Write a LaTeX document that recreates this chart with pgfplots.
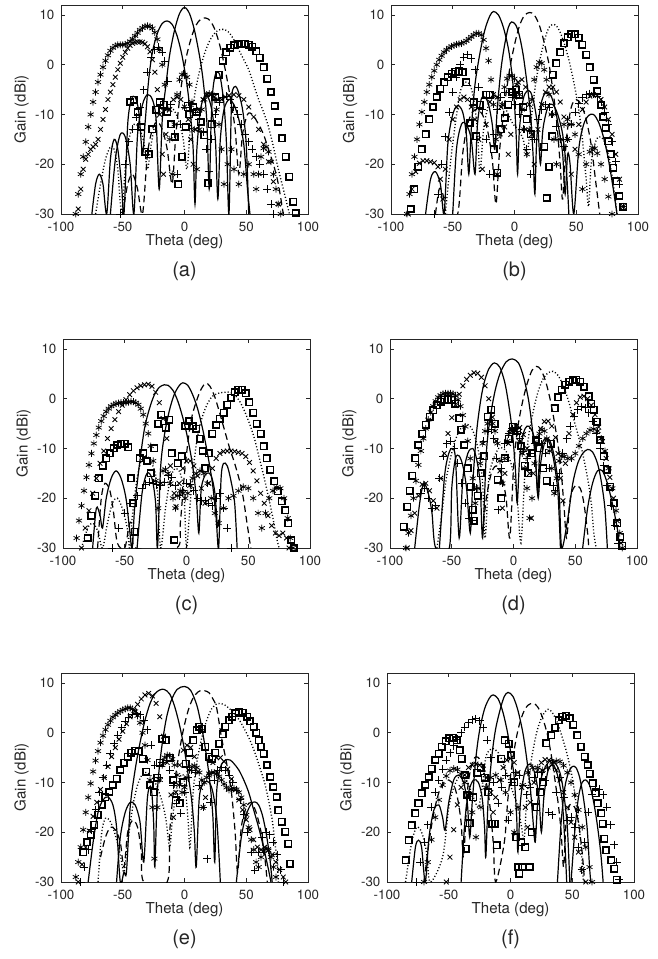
\documentclass[border=0pt]{standalone}
\usepackage{pgfplots}
\pgfplotsset{compat=1.18}
\usepackage{fontspec}
\setmainfont{TeX Gyre Heros}
\definecolor{txtgray}{RGB}{38,38,38}
\pgfplotsset{
 panel/.style={width=185.25pt, height=156.75pt, scale only axis, anchor=south west,
  xmin=-100,xmax=100,ymin=-30,ymax=12,
  xtick={-100,-50,0,50,100}, ytick={-30,-20,-10,0,10},
  tick align=inside, major tick length=3pt,
  axis line style={line width=0.5pt, color=txtgray}, tick style={txtgray, line width=0.5pt},
  tick label style={font=\fontsize{10}{12}\selectfont, text=txtgray, inner sep=1pt},
  xticklabel style={yshift=-4.6pt}, yticklabel style={xshift=-3.8pt},
  /pgf/number format/assume math mode=true},
 sol/.style={black, line width=0.9pt, smooth, tension=0.5, mark=none},
 dsh/.style={black, line width=0.9pt, smooth, tension=0.5, dash pattern=on 5pt off 3pt, mark=none},
 dot/.style={black, line width=1pt, smooth, tension=0.5, dash pattern=on 0.8pt off 1.6pt, mark=none},
 sqm/.style={black, only marks, mark=square, mark size=2.4pt, line width=1.2pt},
 stm/.style={black, only marks, mark=asterisk, mark size=2.6pt, line width=0.55pt},
 xm/.style={black, only marks, mark=x, mark size=2.5pt, line width=0.65pt},
 pm/.style={black, only marks, mark=+, mark size=3pt, line width=0.65pt},
}
\tikzset{lab/.style={font=\fontsize{11.3}{13}\selectfont, text=txtgray, inner sep=0pt},
 plabel/.style={font=\fontsize{15}{17}\selectfont, text=txtgray, inner sep=0pt}}
\begin{document}
\begin{tikzpicture}
\path[use as bounding box] (0pt,0pt) rectangle (492.75pt,-719.25pt);
% ---------------- (a)
\begin{axis}[panel, at={(45.75pt,-160.5pt)}]
\addplot[sol] coordinates {(-75,-30)(-72,-24)(-69,-22)(-66,-24)(-63,-30)(-60,-19)(-57,-15)(-54,-17)(-51,-24)(-49,-30)(-46,-12)(-43,-7)(-40,-6.5)(-37,-9.5)(-34,-18)(-32,-12)(-29,-3)(-26,2.5)(-22,6.3)(-18,8.3)(-14,8.8)(-10,8.1)(-6,5.8)(-2,1.8)(2,-4)(5,-10.5)(7,-17)(8.5,-28)(10,-17)(13,-9)(16,-6.5)(19,-6.5)(22,-9)(25,-15)(27,-27)(29,-15)(32,-9)(36,-7)(40,-8)(44,-11)(48,-16)(51,-25)(53,-30)};
\addplot[sol] coordinates {(-60,-30)(-56,-19)(-52,-14)(-48,-14.5)(-44,-20)(-41,-30)(-38,-14)(-34,-8)(-30,-6)(-26,-7)(-23,-11)(-20.5,-25)(-18,-11)(-15,-4)(-12,2)(-8,7)(-4,10.3)(0,11.5)(4,10.3)(8,7)(12,2)(15,-3)(18,-11)(20,-25)(21.5,-12)(23,-5)(25,-2)(27,-1.5)(29,-2.5)(32,-8)(34,-16)(36,-30)(38,-8)(40,-4.5)(43,-5)(47,-9)(50,-16)(52,-30)};
\addplot[dsh] coordinates {(-50,-30)(-46,-24)(-42,-22)(-38,-25)(-34,-30)(-30,-18)(-26,-13)(-22,-11.5)(-18,-13)(-14,-17)(-10,-24)(-7,-14)(-3,-5)(1,1)(5,5)(9,7.8)(13,9.1)(17,9.4)(21,8.8)(25,6.8)(29,3.5)(33,-1)(37,-6.5)(41,-13)(44,-22)(47,-14)(51,-10)(55,-10)(60,-12)(64,-14)(68,-17)(72,-20)(76,-24)(80,-30)};
\addplot[dot] coordinates {(-72,-30)(-68,-24)(-64,-19)(-60,-16.5)(-57,-17)(-54,-21)(-51,-30)(-48,-21)(-45,-15)(-41,-12)(-37,-12.5)(-33,-15.5)(-30,-21)(-27,-16)(-23,-11)(-19,-9)(-14,-8.5)(-9,-9)(-5,-11)(-1,-15)(2,-21)(5,-12)(9,-5)(13,-0.5)(17,2.8)(21,5.1)(25,6.5)(29,7.1)(32,7.1)(36,6.5)(40,5)(44,3)(48,1)(52,-1)(56,-4)(60,-7)(64,-9.5)(68,-12.5)(72,-16.5)(76,-21)(80,-25)(84,-29)(86,-31)};
\addplot[sqm] coordinates {(-44,-7.5)(-41,-7)(-38,-9.5)(-35,-12.5)(-32,-17.5)(-29,-18)(-26,-13)(-23,-9)(-20,-7.5)(-17,-8)(-14,-9.5)(-11,-12)(-8,-14.5)(-5,-24)(-2,-18.5)(1,-12.5)(4,-10)(7,-8.5)(10,-9.5)(13,-11.5)(16,-14.2)(19,-23.8)(22,-12)(25,-6.5)(28,-2)(31,0.8)(34,2.5)(37,3.4)(40,3.9)(43,4.1)(46,4.2)(49,4.2)(52,4)(55,3.6)(58,2.7)(61,1.4)(64,-0.5)(67,-2.8)(70,-5.5)(73,-8.3)(76,-11.5)(79,-14.8)(82,-18.5)(85,-22.5)(88,-27.5)(90,-29.8)};
\addplot[stm] coordinates {(-88,-30)(-86,-26)(-84,-22)(-82,-18.5)(-80,-15.5)(-78,-12.5)(-76,-10)(-74,-7.5)(-72,-5.5)(-70,-3.5)(-68,-2)(-66,-0.5)(-64,0.8)(-62,1.9)(-60,2.8)(-58,3.4)(-56,3.8)(-54,4)(-52,4)(-50,4)(-48,4.1)(-46,4.3)(-44,4.7)(-42,5.2)(-40,5.8)(-38,6.4)(-36,7)(-34,7.4)(-32,7.7)(-30,7.8)(-28,7.7)(-26,7.3)(-24,6.5)(-22,5.1)(-20,3)(-18,0)(-16,-4)(-14,-9)(-12,-15)(-10,-22)(-8,-12)(-6,-6)(-4,-3)(-2,-2)(0,-2)(2,-2.5)(4,-4)(6,-7.5)(8,-13)(10,-21)(12,-13)(14,-9)(16,-7)(18,-6)(20,-5.8)(22,-6)(24,-7)(26,-9)(28,-12)(30,-17)(32,-24)(35,-20)(38,-17)(40,-21)(44,-24)(48,-22)(52,-20)(56,-22)(58,-25)(60,-22)(62,-18.5)(64,-16.8)(66,-16.5)(68,-17.5)(70,-19.5)(72,-22)(74,-25)(76,-28)(78,-30)};
\addplot[xm] coordinates {(-86,-29)(-84,-25)(-82,-21)(-80,-19)(-78,-18)(-76,-17)(-74,-16.5)(-72,-16)(-70,-15)(-68,-13)(-66,-11)(-64,-9)(-62,-7)(-60,-5.5)(-58,-4)(-56,-2.5)(-54,-1)(-52,0.3)(-50,1.5)(-48,2.5)(-46,3.3)(-44,3.9)(-42,4.3)(-40,4.5)(-38,4.6)(-36,4.6)(-34,4.5)(-32,4.2)(-30,3.6)(-28,2.6)(-26,1)(-24,-1.5)(-22,-5)(-20,-10)(-18,-18)(-17,-22)(-15,-14)(-12,-9)(-9,-7)(-6,-6.5)(-3,-7)(0,-8.5)(3,-11)(5,-15)(7,-20)(9,-13)(12,-9)(15,-7)(18,-6)(21,-6)(24,-6.5)(27,-7)(30,-7)(33,-6.5)(36,-6.2)(40,-6)(44,-6.2)(48,-7)(52,-8.5)(56,-10.5)(60,-13)(64,-16)(68,-19.5)(72,-23.5)(76,-28)};
\addplot[pm] coordinates {(-52,-30)(-48,-20)(-45,-15.5)(-42,-13)(-39,-10.5)(-36,-8.5)(-33,-5)(-30,-1.5)(-27,1.5)(-24,3)(-21,3.5)(-18,2.5)(-16,0.7)(-13.5,-3.3)(-11,-8)(-8,-14)(-6,-22)(-3,-12)(0,-8.5)(3,-7.5)(6,-8)(9,-9.5)(12,-11)(15,-13.5)(17.5,-17)(19.5,-21.4)(22,-15)(25,-10)(28,-7.5)(31,-6.5)(34,-6.3)(37,-7)(40,-8.5)(43,-10)(46,-12)(49,-14)(52,-15.5)(55,-17)(58,-18.5)(61,-20)(64,-22)(67,-25)(70,-28)(72,-30)};
\end{axis}
% ---------------- (b)
\begin{axis}[panel, at={(293.25pt,-160.5pt)}]
\addplot[sol] coordinates {(-72,-30)(-68,-23)(-64,-21.5)(-60,-24)(-57,-30)(-54,-16)(-50,-10)(-46,-8.2)(-42,-9.5)(-39,-14)(-37,-22)(-35,-13)(-32,-4)(-28,2.3)(-24,7)(-20,9.8)(-17,10.7)(-13,10)(-9,7.5)(-5,3.3)(-2,-2)(0,-8)(1.5,-15)(2.5,-22)(4,-13)(7,-7)(10,-5.3)(13,-5.5)(16,-8)(19,-13)(21,-20)(23,-13)(27,-8.5)(31,-8)(35,-10)(39,-14)(42,-21)(44,-30)};
\addplot[sol] coordinates {(-50,-30)(-47,-17)(-43,-12)(-39,-12)(-35,-15)(-32,-22)(-30,-12)(-27,-7)(-24,-6.5)(-21,-8)(-18,-12)(-16,-17)(-14,-9)(-11,-1)(-8,4)(-5,7.5)(-2.4,8.6)(1,8)(4,5.8)(7,2)(10,-3.5)(13,-10)(15,-18)(16.5,-26)(18,-15)(21,-8.5)(24,-6)(27,-5.5)(30,-6.5)(33,-9)(36,-13)(39,-18)(41,-26)(43,-18)(45,-20)(48,-30)(52,-17)(56,-12)(60,-10.2)(64,-10)(68,-11.5)(72,-14.5)(76,-19)(80,-25)(83,-30)};
\addplot[dsh] coordinates {(-64,-30)(-61,-25)(-58,-26)(-55,-30)(-46,-30)(-42,-18)(-38,-12)(-34,-9.5)(-30,-9)(-26,-10)(-22,-13)(-18,-19)(-15,-28)(-12,-17)(-8,-8)(-4,-1)(0,4)(4,7.8)(8,9.9)(12.4,10.5)(16,10)(20,8)(24,4.5)(28,0)(31,-5)(34,-11)(37,-20)(39,-27)(42,-15)(46,-8.5)(50,-7)(54,-8)(58,-11)(62,-16)(66,-24)(69,-30)};
\addplot[dot] coordinates {(-56,-30)(-52,-20)(-48,-12)(-44,-5.5)(-40,-3.5)(-36,-4)(-33,-7)(-30,-13)(-28,-21.7)(-25,-13)(-21,-8)(-17,-6.5)(-13,-7)(-9,-8)(-5,-10)(-1,-12)(3,-13)(7,-15)(10,-18.4)(13,-12)(17,-4)(21,1.5)(25,5.5)(28,7.5)(31,8.1)(34,7.8)(37,6.5)(40,4.5)(44,1)(48,-3.5)(52,-9)(55,-15)(58,-23)(60,-28.5)(62,-20)(65,-16)(68,-14.5)(72,-15)(76,-18)(80,-24)(83,-30)};
\addplot[sqm] coordinates {(-84,-29)(-81,-25)(-78,-20.5)(-75,-17)(-72,-14)(-69,-11)(-66,-8.5)(-63,-6.5)(-60,-4.8)(-57,-3.5)(-54,-2.5)(-51,-1.8)(-48,-1.4)(-45,-1.3)(-42,-1.5)(-39,-3.5)(-36,-11.7)(-33,-7.5)(-31,-14.4)(-28,-8)(-23,-6)(-20,-6)(-17,-17)(-14,-21.7)(-11,-13)(-8,-10.7)(-5,-8)(-2,-5.5)(1,-5)(4,-6)(7,-8.5)(10,-11)(13,-14)(24,-16.5)(26,-26.8)(28,-20.5)(30.5,-14.4)(31,-2)(34,0.3)(37,2.5)(40,4.3)(43,5.5)(46,6.1)(49,6.1)(52,5.4)(55,4)(58,2)(61,-0.5)(64,-3)(67,-5.3)(70,-8)(72,-10.5)(74,-12.7)(76,-15.4)(78,-18)(80,-20.7)(82.5,-23.4)(85,-26.4)(88,-28.5)};
\addplot[stm] coordinates {(-87,-30)(-85,-26)(-83,-22)(-81,-18.5)(-79,-15)(-77,-12)(-75,-9.5)(-73,-7.5)(-71,-5.5)(-69,-4)(-67,-2.5)(-65,-1.2)(-63,0)(-61,1)(-59,1.8)(-57,2.5)(-55,3)(-53,3.4)(-51,3.7)(-49,3.9)(-47,4.1)(-45,4.2)(-43,4.3)(-41,4.5)(-39,4.8)(-37,5.2)(-35,5.6)(-33,6)(-31,6.3)(-29,6.3)(-27,6)(-25,5)(-23,3.3)(-21,0.8)(-19,-3)(-17,-8)(-15,-15)(-14,-22)(-12,-14)(-10,-8)(-8,-4.5)(-6,-2.8)(-4,-2.2)(-2,-2.2)(0,-2.8)(2,-4)(4,-6)(6,-9)(8,-13)(10,-18)(12,-13)(14,-7)(16,-3)(18,-0.5)(20,0.5)(22,0.3)(24,-1)(26,-3)(28,-6)(30,-10)(32,-15)(34,-20)(37,-15)(40,-12)(43,-11)(46,-12)(49,-14)(52,-18)(55,-25)(58,-20)(61,-17.5)(63,-16.7)(65,-16.8)(67,-17.8)(70,-20)(73,-23)(76,-26.5)(79,-30)};
\addplot[xm] coordinates {(-86,-30)(-83,-25)(-80,-21.5)(-77,-19.8)(-74,-19.3)(-71,-19.3)(-68,-19.5)(-65,-19.7)(-62,-20.5)(-60,-23)(-58,-27)(-56,-21)(-53,-15)(-50,-11)(-47,-8.5)(-44,-7)(-41,-6.5)(-38,-7)(-35,-8.5)(-32,-11)(-29,-15)(-26,-21)(-23,-12)(-20,-7.5)(-17,-6)(-14,-6.5)(-11,-8.5)(-8,-12.5)(-5,-18)(-3,-14)(0,-6.5)(3,-3.5)(6,-3)(9,-4.5)(12,-8)(14,-14)(16,-20)(19,-13)(22,-8)(25,-5.5)(28,-4.5)(31,-4.5)(34,-5.5)(37,-7.5)(40,-10.5)(43,-15)(46,-22)(49,-17)(52,-12)(55,-9)(58,-7.5)(61,-6.3)(64,-6)(67,-6.2)(70,-7)(73,-8.5)(76,-11)(79,-14)(82,-18)(85,-23)(88,-28.5)};
\addplot[pm] coordinates {(-65,-30)(-62,-26)(-59,-20)(-56,-14.5)(-53,-9.5)(-50,-5.5)(-47,-2.5)(-44,0)(-41,1.5)(-38,2)(-35,1.2)(-32,-1)(-29,-4.5)(-26,-9)(-23,-15)(-20,-22)(-17,-14)(-14,-9)(-11,-6.5)(-8,-5.5)(-5,-5.5)(-2,-6.5)(1,-8)(4,-10)(7,-13)(10,-17)(13,-22)(16,-15)(19,-11)(22,-9)(25,-8)(28,-8.5)(31,-10)(34,-12.5)(37,-15)(40,-16.5)(43,-15)(46,-12)(49,-9.5)(52,-7.8)(55,-6.6)(58,-6)(61,-5.8)(64,-5.9)(67,-6.4)(70,-7.5)(73,-9.5)(76,-12)(79,-15.5)(82,-19.5)(85,-24)(88,-28.5)};
\end{axis}
% ---------------- (c)
\begin{axis}[panel, at={(47.25pt,-411pt)}]
\addplot[sol] coordinates {(-76,-30)(-73,-22)(-70,-23.5)(-68,-26)(-65,-20)(-61,-16)(-57,-14.5)(-53,-16)(-49,-20)(-46,-26.5)(-44,-30)(-42,-22)(-38,-13)(-34,-6)(-30,-2)(-26,0.8)(-22,2.3)(-18,2.8)(-15,2.7)(-11,1.7)(-7,-0.5)(-3,-3.8)(1,-8)(5,-13.5)(8,-20)(10,-27)(12,-18)(16,-15)(20,-15.5)(23,-19)(25,-26)};
\addplot[sol] coordinates {(-40,-30)(-36,-19)(-32,-15)(-28,-16)(-25,-21)(-23.5,-30)(-21,-14)(-18,-7.5)(-14,-2.5)(-10,0.8)(-6,2.6)(-3,3.2)(1,2.7)(5,0.8)(9,-2)(13,-6)(17,-11)(21,-17)(24,-24)(26,-30)(28,-16)(30,-13)(33,-13.5)(36,-16.5)(39,-21)(41,-30)};
\addplot[dsh] coordinates {(-72,-30)(-69,-20)(-66,-17)(-62,-18.5)(-59,-23)(-56,-29)(-50,-30)(-46,-25)(-43,-26)(-41,-30)(-8,-30)(-5,-25)(-2,-16)(1,-9)(4,-4)(8,-0.5)(12,2)(15.6,3.1)(19,2.5)(23,0.3)(27,-3)(31,-6.5)(35,-10)(39,-13)(43,-16.5)(46,-20)(49,-25)(52,-30)};
\addplot[dot] coordinates {(-85,-30)(-80,-26)(-76,-25)(-72,-26.5)(-68,-30)(-64,-25)(-60,-21)(-56,-20)(-52,-22)(-48,-26)(-46,-30)(-44,-24)(-40,-16)(-36,-12)(-32,-11.5)(-28,-13)(-24,-17)(-21,-30)(-17,-22)(-13,-16)(-9,-14)(-5,-15)(-2,-19)(0,-30)(3,-21)(6,-13)(9,-7.5)(13,-3.5)(17,-1)(21,0.5)(26,1.1)(31,1.3)(35,1.3)(39,0.8)(43,-0.5)(47,-2.5)(51,-5)(55,-8)(59,-12)(63,-16)(67,-20.5)(70,-24)(73,-28)(75,-30)};
\addplot[sqm] coordinates {(-80,-28)(-77,-23.5)(-74,-19.5)(-71,-16)(-68,-13.5)(-65,-12)(-62,-11)(-59,-10)(-56,-9.3)(-53,-9)(-50,-9)(-47,-9.8)(-45,-16)(-43.5,-21)(-42,-26.7)(-38,-12)(-35,-11)(-32,-12.5)(-29,-15)(-26,-10)(-23,-5)(-20.5,-3.2)(-17,-5.8)(-14,-4.2)(-12,-11)(-10,-28.4)(-7,-13)(-4,-11.6)(-1,-5.5)(2,-4.5)(5,-5.5)(8,-6)(11,-8)(13,-10.5)(15,-14)(18,-11)(21,-7)(24,-5.3)(27,-4)(30,-2.8)(33,-1.2)(36,0.2)(39,1.3)(42,1.8)(45,1.8)(48,1.1)(51,-0.7)(54,-2.8)(57,-5)(60,-7)(62.5,-9.6)(65,-12)(68,-14.3)(71,-16.6)(74,-18.6)(77,-20.6)(80,-22.4)(82.5,-25)(85,-28.4)(87,-30)};
\addplot[stm] coordinates {(-89,-28)(-87,-24.5)(-85,-21.5)(-83,-18.5)(-81,-15.8)(-79,-13.3)(-77,-11)(-75,-9)(-73,-7.3)(-71,-5.8)(-69,-4.5)(-67,-3.5)(-65,-2.6)(-63,-2)(-61,-1.5)(-59,-1.2)(-57,-1)(-55,-0.9)(-53,-0.8)(-51,-0.8)(-49,-0.8)(-47,-0.7)(-45,-0.6)(-43,-0.6)(-41,-0.8)(-39,-1.2)(-37,-2)(-35,-3.2)(-33,-5)(-31,-7)(-29,-9.5)(-27,-12.5)(-25,-16.5)(-23,-22)(-21,-17)(-19,-14.5)(-17,-14.2)(-15,-15)(-13,-17)(-11,-20)(-9,-22)(-7,-19.5)(-5,-18.5)(-3,-19)(-1,-20)(1,-19)(3,-17.5)(5,-16)(8,-15)(11,-14.5)(14,-15)(17,-17)(20,-20)(23,-23)(26,-25)(30,-22)(34,-20)(38,-19.5)(42,-18.5)(46,-17.7)(50,-18)(54,-20)(58,-23)(61,-26)(64,-23)(67,-20)(70,-18.5)(73,-17.8)(76,-18)(79,-20)(82,-24)(84,-28)(86,-30)};
\addplot[xm] coordinates {(-85,-30)(-82,-26)(-79,-22.5)(-76,-19)(-73,-16)(-70,-13)(-67,-10.5)(-64,-8)(-61,-6)(-58,-4.2)(-55,-2.6)(-52,-1.3)(-49,-0.2)(-46,0.8)(-43,1.6)(-40,2.2)(-37,2.6)(-34,2.8)(-31,2.9)(-28,2.5)(-25,1.3)(-22,-0.8)(-19,-4)(-16,-8)(-13,-13.5)(-10,-19)(-8.5,-21.7)(-6,-17)(-3,-14)(0,-12.5)(3,-12.5)(6,-13.5)(9,-15.5)(12,-18)(15,-21)(18,-17)(21,-14)(24,-12)(27,-11)(30,-10.6)(33,-10.5)(36,-10.5)(39,-10.6)(42,-10.8)(45,-11)(48,-11.6)(51,-12.8)(54,-14.5)(57,-16.5)(60,-19)(63,-21)(66,-23.5)(69,-25.5)(72,-27)(75,-27.5)(78,-27)(81,-28)(83,-30)};
\addplot[pm] coordinates {(-60,-30)(-55,-26)(-50,-23)(-45,-21)(-40,-19.5)(-36,-18)(-33,-17.2)(-30,-16.8)(-27,-17)(-24,-17.3)(-21,-17.5)(-18,-16.8)(-15,-15.5)(-12,-15.8)(-9,-17.5)(-6,-19.5)(-3,-18.5)(0,-17)(3,-17.2)(6,-18.5)(9,-20)(12,-20.5)(15,-20.5)(18,-21)(21,-21.5)(24,-20)(27,-19)(30,-22)(33,-26)(36,-30)};
\end{axis}
% ---------------- (d)
\begin{axis}[panel, at={(292.5pt,-411pt)}]
\addplot[sol] coordinates {(-80,-30)(-76,-21)(-72.7,-17)(-69,-19)(-66,-23)(-63,-30)(-52,-30)(-50,-18)(-47,-12)(-44,-11.5)(-41,-13.5)(-38,-18)(-35,-27)(-33,-17)(-30,-7)(-27,-1)(-24,3)(-20,6)(-15.5,7.2)(-11,6.3)(-7,3.2)(-4,-1)(-1,-6.5)(1.5,-14)(3,-21)(5,-12)(8,-7)(11,-5.5)(14,-6)(17,-8.5)(19.5,-19)(21,-12)(24,-8.5)(27,-8)(30,-9.5)(33,-13)(36,-19)(38,-30)};
\addplot[sol] coordinates {(-60,-30)(-56,-16)(-53,-11.5)(-50,-10)(-47,-12)(-44,-28)(-41,-16)(-37,-11)(-33,-10)(-30,-12)(-27,-17)(-25,-28)(-22,-11)(-19,-4)(-15,1.5)(-11,5)(-6,7.4)(-1,8)(4,7.2)(8,4.5)(12,0)(15,-5.5)(18,-13)(20,-20)(22,-13)(25,-9)(28,-8)(31,-9.5)(34,-13)(37,-19)(39,-30)(44,-24)(48,-17)(52,-13)(56,-11)(60,-10.2)(64,-10.7)(68,-13)(71,-16.5)(74,-22)(76,-30)};
\addplot[sol] coordinates {(56,-30)(60,-22)(64,-17)(68,-14.5)(72,-14.5)(76,-17)(80,-21)(84,-26)(86,-30)};
\addplot[dsh] coordinates {(-25,-27)(-22,-20)(-18,-15)(-14,-13.5)(-10,-15)(-6,-20)(-3,-28)(0,-14)(3,-6.5)(7,-1)(11,3)(15,5.7)(18.5,6.5)(22,5.9)(26,3.5)(30,-0.5)(34,-6)(38,-13)(41,-22)(43,-28)(46,-20)(50,-17.5)(54,-18)(57,-21)(60,-27)(61,-30)};
\addplot[dot] coordinates {(-62,-30)(-58,-23)(-55,-17)(-52,-13)(-48,-9)(-44,-6.5)(-40,-5.2)(-36,-5.3)(-32,-7)(-28,-11)(-25,-17)(-23,-28)(-20,-16)(-16,-12)(-12,-10)(-8,-10)(-4,-11.5)(0,-15)(3,-20)(6,-29)(9,-16)(12,-8)(16,-2.5)(20,1.5)(24,4)(28,5.2)(32,5.5)(36,4.7)(40,2.8)(44,0)(48,-3.5)(52,-7)(56,-11)(60,-16)(63,-21)(65,-27)(67,-30)};
\addplot[sqm] coordinates {(-89,-25.7)(-86,-21.7)(-84,-18.5)(-82,-15.5)(-79.5,-12)(-77,-9.3)(-74,-7)(-71,-5.2)(-68,-3.6)(-65,-2.3)(-62,-1.3)(-59,-0.6)(-56,-0.2)(-53,-0.1)(-50,-0.2)(-47,-1)(-44,-3.9)(-42.5,-6.2)(-40,-9.3)(-37,-14)(-34.6,-17.7)(-33,-22.3)(-32,-24.5)(-29,-19.5)(-26.5,-15)(-23.7,-11.6)(-21,-3.6)(-18,-2.2)(-15,-5)(-12.8,-16.3)(-10,-20)(-7,-12)(-4,-8)(-0.5,-5.6)(3,-6.5)(6,-9.5)(9,-13.5)(12,-15)(15,-11)(18,-8.3)(21,-10)(24,-14)(27,-16.5)(30,-9)(33.5,-1.9)(36,0.3)(39,1.8)(42,2.8)(45,3.4)(48,3.7)(51,3.8)(54,3.4)(57,2.4)(60.8,0.5)(63,-1)(64.9,-2.2)(67.6,-4.6)(70,-8.3)(73,-11.6)(75.7,-14.3)(78.5,-17.7)(81,-21)(84,-25)(86.6,-27.7)(88,-29.5)};
\addplot[stm] coordinates {(-87,-30)(-85,-27)(-83,-23.5)(-81,-20)(-79,-16.5)(-77,-13.3)(-75,-10.5)(-73,-8)(-71,-6)(-69,-4.2)(-67,-2.7)(-65,-1.5)(-63,-0.5)(-61,0.3)(-59,0.7)(-57,1)(-55,1.1)(-53,1.1)(-51,1.1)(-49,1)(-47,0.6)(-45,-0.2)(-43,-1.5)(-41,-3.3)(-39,-5.6)(-37,-8.5)(-35,-12)(-33,-16)(-31,-21)(-29,-18)(-27,-13)(-25,-9)(-23,-6.5)(-21,-5)(-19,-4.5)(-17,-5)(-15,-6.5)(-13,-9)(-11,-12.5)(-9,-17)(-7,-12)(-5,-8.5)(-3,-6.8)(-1,-6)(1,-6)(3,-6.8)(5,-8.5)(7,-11)(9,-14)(11,-18)(13,-24)(15,-20)(17,-13)(19,-9)(21,-7)(23,-6.2)(25,-6.5)(27,-8)(29,-10.5)(31,-14)(33,-19)(35,-16)(37,-12.5)(39,-11.5)(41,-11.6)(44,-12)(47,-12)(50,-11)(53,-9.5)(56,-8)(59,-7)(62,-6.3)(65,-6.1)(68,-6.5)(71,-8)(74,-10.5)(77,-14)(80,-18)(83,-22.5)(86,-27)(88,-30)};
\addplot[xm] coordinates {(-86,-30)(-83,-26.5)(-80,-23)(-77,-19.5)(-74,-17.2)(-71,-17)(-68,-18.5)(-65,-20.5)(-62,-22)(-59,-16)(-56,-11)(-53,-7)(-50,-3.8)(-47,-1.2)(-44,0.9)(-41,2.6)(-38,3.9)(-35,4.7)(-32,5.2)(-29,5.1)(-26,4.3)(-23,2.6)(-20,0)(-17,-3.7)(-14,-8.5)(-11,-14.5)(-9,-22)(-7,-15)(-4,-9)(-1,-6.5)(2,-5.5)(5,-5.8)(8,-7.2)(11,-10)(13,-15)(14.5,-24)(16,-15)(19,-9)(22,-6)(25,-4.6)(28,-4.5)(31,-5.5)(34,-7.8)(36,-11)(38,-16)(40,-20.5)(42,-13)(45,-7)(48,-3.2)(51,-0.8)(54,0.3)(57,0.5)(60,0)(63,-1.3)(66,-3.2)(69,-5.7)(72,-8.6)(75,-12)(78,-15.8)(81,-20)(84,-24.5)(87,-29)};
\addplot[pm] coordinates {(-75,-19)(-72,-18)(-69,-20)(-66,-22)(-63,-21.5)(-60,-16)(-57,-11.5)(-54,-9)(-51,-8.5)(-48,-10)(-45,-13)(-42,-17)(-39,-21)(-36,-24)(-33,-24.5)(-30,-18)(-27,-12)(-24,-8.5)(-21,-6.5)(-18,-6.2)(-16,-8)(-14,-12)(-12.5,-22.3)(-10,-14)(-7,-9)(-4,-7)(-1,-6)(2,-6.5)(5,-8)(8,-10.5)(11,-12)(14,-11)(17,-9)(20,-8)(23,-9)(26,-11)(29,-14)(32,-17.5)(34,-18.5)(37,-15)(40,-11)(43,-8)(46,-5.5)(49,-3.5)(52,-2.2)(55,-1.6)(58,-1.8)(61,-2.8)(64,-4.5)(67,-7)(70,-10)(73,-13.5)(76,-17.5)(79,-21.5)(82,-25.5)(85,-29)};
\end{axis}
% ---------------- (e)
\begin{axis}[panel, at={(45.75pt,-661.5pt)}]
\addplot[sol] coordinates {(-78,-30)(-74,-22)(-70,-16)(-66,-13.5)(-62,-12.9)(-58,-14.5)(-55,-19)(-52,-30)(-49,-28)(-47,-28)(-44,-15)(-40,-7.5)(-36,-2)(-32,2.5)(-28,5.8)(-24,7.8)(-20,8.6)(-16.4,8.7)(-12,7.8)(-8,5.3)(-4,1.5)(0,-3.5)(3,-8.5)(6,-14)(8,-20)(9.5,-27)(12,-13)(16,-10)(20,-10)(23,-12)(26,-17)(28,-25)(29,-30)};
\addplot[sol] coordinates {(-55,-30)(-52,-21)(-48,-16)(-44,-14)(-40,-14.5)(-36,-18)(-33,-26)(-30,-13)(-27,-11)(-25,-18)(-24,-27)(-22,-12)(-19,-4)(-15,2.5)(-11,6.3)(-6,8.7)(0,9.3)(5,8.5)(10,5.5)(14,1)(18,-5)(21,-11)(23,-17)(24.5,-26)(26,-12)(29,-7)(33,-5.5)(37,-5.5)(40,-6.2)(44,-7.5)(48,-9.5)(52,-12)(56,-15.5)(60,-19)(64,-23)(68,-27.5)(70,-30)};
\addplot[sol] coordinates {(42,-30)(46,-21)(50,-16.5)(54,-14.3)(57,-13.9)(60,-14.5)(63,-16.5)(66,-20)(69,-25)(71,-30)};
\addplot[dsh] coordinates {(-68,-25)(-64,-21)(-60,-19)(-56,-19.5)(-52,-22)(-49,-27)(-46,-20)(-42,-17.6)(-38,-19)(-35,-24)(-33,-30)(-14,-30)(-12,-20)(-9,-12)(-5,-5)(-1,0.5)(3,4.5)(7,7)(11,8.2)(14,8.5)(17,8.4)(20,8)(23,6.8)(26,5)(30,-1)(34,-6)(38,-12)(41,-20)(43,-28)(46,-19)(50,-15)(54,-14)(58,-16)(62,-20)(65,-25)(67,-30)};
\addplot[dot] coordinates {(-70,-30)(-67,-20)(-64,-17.2)(-61,-17.5)(-58,-19)(-55,-21.5)(-52,-24.5)(-49,-28)(-46,-22)(-42,-15)(-38,-10.5)(-34,-8.3)(-30,-8)(-26,-9)(-22,-11)(-18,-14)(-15,-17.5)(-12,-23)(-10,-18)(-7,-12)(-4,-9)(-1,-8.5)(1,-12)(3,-18)(4.5,-23)(7,-12)(10,-6)(14,-1)(18,2.5)(22,4.8)(26,5.8)(29,5.9)(33,5.5)(37,4.7)(41,3.7)(45,2.3)(49,0.5)(53,-1.5)(57,-4)(61,-7)(65,-10.2)(68,-13.5)(71,-17.5)(73,-21.6)(75,-26)(76,-30)};
\addplot[sqm] coordinates {(-82,-24)(-79,-22)(-76,-20.5)(-73,-18.5)(-70,-16.5)(-67,-14.5)(-64,-13)(-61,-11.9)(-58,-10.5)(-55,-9.2)(-52,-7.5)(-49,-6)(-46,-4.8)(-43,-4)(-40,-3.6)(-37,-3.7)(-34,-5.2)(-31,-7.8)(-28,-10.5)(-25,-12)(-22,-9)(-20,-6)(-18,-1.2)(-15,-1.5)(-12,-5)(-9,-9.5)(-7,-13.6)(-4,-14.2)(-1,-10)(1,-6.2)(4,-4)(7,-1.5)(10,0.5)(12,1.2)(14,0.8)(17,-2.8)(20,-4.8)(22.5,-5.2)(25,-4)(28,-2.2)(31,-0.3)(33,1.2)(36,2.5)(38.6,3.2)(41,3.9)(44,4.2)(47,4)(50.7,3.2)(53,2.3)(56,1.2)(58,0)(60,-1.5)(62,-2.8)(64,-4.2)(66.8,-6.5)(69.4,-8.9)(72,-10.9)(74.8,-12.9)(76,-15.6)(78.8,-17.9)(81.5,-19.9)(84,-22.3)(85.5,-26.3)};
\addplot[stm] coordinates {(-88,-29)(-86,-26)(-84,-23)(-82,-19.5)(-80,-16)(-78,-13)(-76,-10.2)(-74,-7.8)(-72,-5.6)(-70,-3.7)(-68,-2)(-66,-0.6)(-64,0.6)(-62,1.6)(-60,2.4)(-58,3.1)(-56,3.6)(-54,4)(-52,4.3)(-50,4.6)(-48,4.8)(-46,5)(-44,5)(-42,4.8)(-40,4.3)(-38,3.4)(-36,2)(-34,0)(-32,-2.5)(-30,-5.5)(-28,-9.5)(-26,-15)(-24.4,-25.3)(-22,-15)(-20,-9.5)(-18,-6.5)(-16,-5)(-14,-4.5)(-12,-4.6)(-10,-5.3)(-8,-6.5)(-6,-8.5)(-4,-10.5)(-2,-12)(0,-11)(2,-9)(4,-7.5)(6,-6.8)(8,-6.6)(10,-7)(12,-8)(14,-9.5)(16,-10)(18,-9)(20,-8.2)(22,-8)(24,-8)(26,-8.3)(28,-8.8)(30,-9.5)(32,-10.3)(34,-11)(36,-11.5)(38,-11.3)(40,-11.2)(42,-11.4)(44,-12)(46,-13)(48,-14.5)(50,-16.5)(52,-19)(54,-21.5)(56,-23.5)(58,-26)(60,-27)(62,-25)(64,-23.8)(66,-23.3)(68,-23.7)(70,-25)(72,-27)(74,-29)};
\addplot[xm] coordinates {(-86,-30)(-83,-26.5)(-80,-23)(-77,-19.8)(-74,-16.8)(-71,-14)(-68,-11.4)(-65,-9)(-62,-6.8)(-59,-4.8)(-56,-3)(-53,-1.3)(-50,0.3)(-47,1.8)(-44,3.2)(-41,4.5)(-38,5.7)(-35,6.8)(-32,7.6)(-29,7.9)(-26,7.4)(-23,5.9)(-20,3.2)(-17,-0.7)(-14,-6)(-11,-12.5)(-9,-17)(-7,-12)(-4,-6.5)(-1,-3.5)(2,-2.5)(5,-3)(8,-4.8)(11,-7.8)(13,-11)(15,-15)(17,-13)(20,-8.5)(23,-6)(26,-5)(29,-5)(32,-5.8)(35,-7.3)(38,-9.3)(41,-11.5)(44,-13.5)(47,-15.5)(50,-17.5)(53,-19.5)(56,-21.5)(59,-23)(62,-23.5)(65,-23)(68,-23.5)(71,-24.5)(74,-26)(77,-27.5)(80,-29)(82,-30)};
\addplot[pm] coordinates {(-84,-30)(-81,-27)(-78,-23.5)(-75,-19.5)(-72,-15.5)(-69,-12)(-66,-9)(-63,-6.5)(-60,-4.2)(-57,-2.2)(-54,-0.5)(-51,1)(-48,2.2)(-45,3.1)(-42,3.7)(-39,3.9)(-36,3.6)(-33,2.5)(-30,0.6)(-27,-2.5)(-24,-6.5)(-21,-9)(-18,-6)(-15,-5.5)(-12,-7.5)(-9,-10.5)(-6,-13)(-3,-16.2)(0,-12)(3,-9)(6,-7.5)(9,-8)(12,-10.5)(15,-15)(18.5,-25.3)(21,-14)(24,-9.5)(27,-7.5)(30,-7)(33,-7.5)(36,-8.5)(39,-10)(42,-11.5)(45,-13.5)(48,-16.5)(51,-20)(54,-24)(57,-27.6)(60,-24)(63,-21)(66,-20)(69,-20.5)(72,-22)(75,-24.5)(78,-27.5)(80,-30)};
\end{axis}
% ---------------- (f)
\begin{axis}[panel, at={(290.25pt,-661.5pt)}]
\addplot[sol] coordinates {(-80,-30)(-77,-23)(-74.5,-21.6)(-72,-23)(-69,-30)(-66,-21)(-62,-15.5)(-58,-14.5)(-55,-17)(-53,-19.6)(-50,-14)(-46,-9.5)(-42,-8.5)(-38,-10)(-35,-14)(-33,-21)(-31,-14)(-28,-5)(-25,0.5)(-21,4.8)(-17,7)(-14,7.6)(-10,6.8)(-6,4)(-2,-0.5)(1,-5.5)(3,-9)(5,-17)(6,-24)(8,-14)(11,-8.5)(14,-6.5)(17,-6.5)(20,-8.5)(23,-13)(25,-20)(27,-13)(30,-8)(33,-6.5)(36,-7)(39,-9.5)(42,-14)(44,-22)(45.5,-30)};
\addplot[sol] coordinates {(-40,-30)(-37,-18)(-34,-12)(-30,-9.5)(-26,-10)(-23,-13)(-21,-19)(-20,-25)(-18,-13)(-15,-4.5)(-12,0.8)(-8,5)(-5,7.3)(-2,8.1)(2,7.3)(6,4.5)(10,0)(13,-5)(16,-11)(18,-17)(20,-22)(22,-14)(25,-9)(29,-6.5)(33,-5.5)(36,-6)(40,-8)(43,-12)(46,-19)(48,-30)};
\addplot[sol] coordinates {(38,-30)(41,-18)(44,-11)(47,-8)(50,-6.8)(53,-7)(56,-9)(59,-13)(62,-19)(64,-27)(65,-30)};
\addplot[sol] coordinates {(49,-30)(52,-20)(55,-13)(58,-10)(61,-9.5)(64,-10.5)(67,-13.5)(70,-18)(73,-24)(75,-30)};
\addplot[dsh] coordinates {(-70,-30)(-66,-22)(-62,-16)(-58,-12)(-54,-10)(-50,-9.5)(-46,-10.5)(-43,-13)(-40,-18)(-38,-25)(-35,-12)(-32,-7)(-29,-5)(-26,-5)(-23,-6.5)(-20,-9.5)(-17,-14)(-14,-22)(-12,-30)(-5,-22)(-2,-13)(2,-5)(6,0.5)(10,3.8)(14,5.5)(18.3,5.9)(22,5.2)(26,3)(30,-0.5)(33,-4.5)(36,-9.5)(39,-15)(41,-20)(43,-27)(45,-18)(48,-14.5)(52,-15)(55,-18)(58,-24)(60,-30)};
\addplot[dot] coordinates {(-85,-30)(-80,-22)(-76,-19)(-72,-20)(-68,-24)(-65,-30)(-55,-25)(-50,-15)(-46,-11)(-42,-9)(-38,-9)(-34,-10.5)(-30,-13)(-26,-15)(-23,-11)(-20,-5)(-17,-3.5)(-14,-3.2)(-10,-4)(-6,-6)(-2,-9)(2,-12)(6,-15)(9,-19)(11,-21.6)(13,-14)(16,-7)(19,-2.5)(22,0.8)(26,3.5)(30.4,4.7)(34,4)(38,2)(42,-1)(46,-4.5)(50,-9)(53,-14)(56,-20)(58,-26)(59,-30)};
\addplot[sqm] coordinates {(-85,-25.6)(-82.5,-21.6)(-80,-18.6)(-77,-16.2)(-74.5,-14.2)(-71.8,-12.2)(-69,-10.5)(-66.4,-8.9)(-63.7,-7.2)(-61,-5.5)(-58,-4.2)(-55.6,-2.8)(-52.5,-1.7)(-49.5,-1.1)(-46.5,-1)(-43.5,-1.5)(-41,-3.5)(-39.5,-5.2)(-37,-8.5)(-35,-12.5)(-36,-23.3)(-33,-18.2)(-30,-13)(-27,-8)(-24,-7)(-21,-9)(-18,-12)(-15,-18.3)(-12.6,-18.3)(-11.3,-22.6)(-7.3,-5.2)(-4.6,-1.5)(-1.5,-2.2)(0.8,-4.5)(3,-10)(4.8,-21)(6.2,-27)(7,-28.3)(8.9,-22)(9.5,-27)(12,-23)(15.6,-27)(17,-20)(21,-15)(24,-12)(26,-10)(29,-2.1)(33,-0.5)(36,1)(39,2.5)(42,3.2)(45,3.4)(48,2.9)(51,1.6)(54,-0.5)(57,-2.8)(60,-4.8)(62.6,-6.5)(64,-8.2)(66.7,-10.2)(69,-12.2)(70.7,-14.2)(73.4,-16.2)(74.7,-18.3)(76,-21.3)(77.4,-23.6)(81.5,-25.6)(84,-27.3)(86,-29.5)};
\addplot[stm] coordinates {(-70,-30)(-67,-26)(-64,-21.5)(-61,-17)(-58,-13.5)(-55,-10.5)(-52,-8.7)(-49,-7.6)(-46,-7.2)(-43,-7.4)(-40,-8.3)(-37,-10)(-34,-12.5)(-31,-16)(-28,-21)(-24,-15)(-20,-11)(-16,-9)(-12,-8.5)(-8,-9.5)(-4,-12)(0,-16)(3,-20)(6,-15)(10,-10.5)(14,-8)(18,-7)(22,-7)(26,-7.5)(30,-7)(34,-6)(37,-5.7)(40,-5.8)(43,-6.6)(46,-8)(49,-10)(52,-12.5)(55,-15.5)(58,-19)(61,-23)(64,-27)(66,-30)};
\addplot[xm] coordinates {(-52,-30)(-49,-25)(-46,-19.5)(-43,-14.5)(-40,-11)(-37,-8.5)(-34,-7)(-31,-6.5)(-28,-6.3)(-25,-6.5)(-22,-7.3)(-19,-9)(-16,-12)(-14,-16)(-12,-13)(-9,-9.5)(-6,-7)(-3,-5.5)(0,-5.2)(3,-6)(6,-8)(9,-11)(12,-15)(14,-19)(16,-14)(19,-10)(22,-7.5)(25,-6)(28,-5.4)(31,-5.5)(34,-6.3)(37,-7.5)(40,-9.5)(43,-12)(46,-15)(49,-18)(52,-21)(55,-24)(58,-27.5)(61,-30)};
\addplot[pm] coordinates {(-76,-30)(-73,-26)(-70,-22)(-67,-18.5)(-64,-15)(-61,-12)(-58,-9.5)(-55,-7.3)(-52,-5.5)(-49,-4)(-46,-2.6)(-43,-1.3)(-40,0)(-37,1.1)(-34,2)(-31,2.6)(-28,2.8)(-25,2.4)(-22,1)(-19,-1.5)(-16,-5)(-13.5,-10)(-10,-14.2)(-7,-11)(-4,-8.5)(-2,-17.6)(1,-10)(4,-8)(7,-8.5)(10,-10.5)(13,-12.5)(16,-11)(19,-9)(22,-8)(25,-8)(28,-9.5)(31,-16)(34,-16.5)(37,-12)(40,-9)(43,-13)(46,-17.6)(49,-17)(52,-19)(55,-23)(57.5,-27.5)(60,-22)(63,-16)(66,-12.5)(69,-11.2)(72,-11.3)(75,-12.5)(78,-15)(81,-18.5)(84,-22.5)(86,-26)(88,-29.5)};
\end{axis}
% ---------------- axis titles and panel labels
\node[lab] at (138.4pt,-181.5pt) {Theta (deg)};
\node[lab] at (385.9pt,-181.5pt) {Theta (deg)};
\node[lab] at (139.9pt,-432pt) {Theta (deg)};
\node[lab] at (385.1pt,-432pt) {Theta (deg)};
\node[lab] at (138.4pt,-682.5pt) {Theta (deg)};
\node[lab] at (382.9pt,-682.5pt) {Theta (deg)};
\node[lab, rotate=90] at (16.25pt,-82.1pt) {Gain (dBi)};
\node[lab, rotate=90] at (262.5pt,-82.1pt) {Gain (dBi)};
\node[lab, rotate=90] at (17.75pt,-332.6pt) {Gain (dBi)};
\node[lab, rotate=90] at (262pt,-332.6pt) {Gain (dBi)};
\node[lab, rotate=90] at (16.25pt,-583.1pt) {Gain (dBi)};
\node[lab, rotate=90] at (260.5pt,-583.1pt) {Gain (dBi)};
\node[plabel] at (138.4pt,-203.25pt) {(a)};
\node[plabel] at (385.9pt,-203.25pt) {(b)};
\node[plabel] at (139.9pt,-453.75pt) {(c)};
\node[plabel] at (385.1pt,-453.75pt) {(d)};
\node[plabel] at (138.4pt,-704.25pt) {(e)};
\node[plabel] at (382.9pt,-704.25pt) {(f)};
\end{tikzpicture}
\end{document}
